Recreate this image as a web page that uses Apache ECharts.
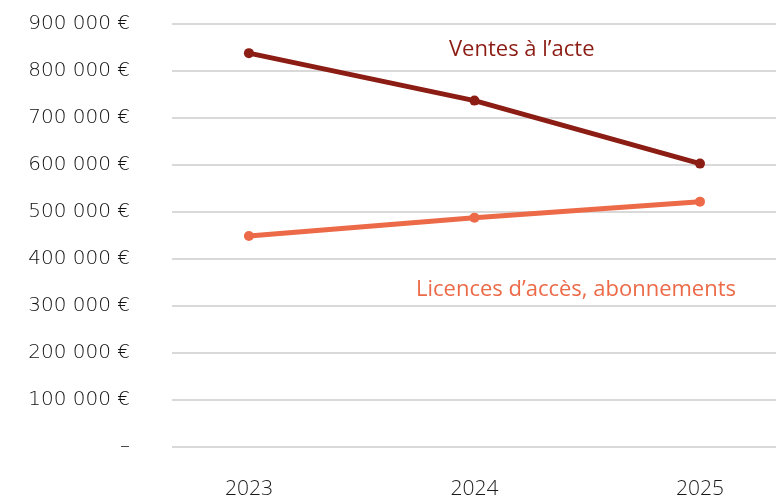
<!DOCTYPE html>
<html>
<head>
<meta charset="utf-8">
<script src="https://cdn.jsdelivr.net/npm/echarts@6/dist/echarts.min.js"></script>
<style>
  html, body { margin: 0; padding: 0; background: #fff; }
  #chart { width: 778px; height: 504px; }
</style>
</head>
<body>
<div id="chart"></div>
<script>
// données
var years = [2023, 2024, 2025];
var ventes = [838000, 737000, 603000];
var licences = [449000, 488000, 522000];

function pairs(vals) {
    return years.map(function (y, i) { return [y, vals[i]]; });
}

function fmtEuro(v) {
    if (v === 0) return '–';
    return String(v).replace(/\B(?=(\d{3})+(?!\d))/g, ' ') + ' €';
}

var chart = echarts.init(document.getElementById('chart'));
var option = {
    animation: false,
    grid: { left: 172, right: 2, top: 24, bottom: 57 },
    xAxis: {
        type: 'value',
        min: 2022.659,
        max: 2025.337,
        splitLine: { show: false },
        axisLine: { show: false },
        axisTick: { show: false },
        axisLabel: {
            customValues: years,
            margin: 32,
            fontFamily: 'Open Sans',
            fontWeight: 300,
            fontSize: 21,
            color: '#1a1a1a',
            formatter: function (v) { return String(v); }
        }
    },
    yAxis: {
        type: 'value',
        min: 0,
        max: 900000,
        interval: 100000,
        axisLine: { show: false },
        axisTick: { show: false },
        splitLine: { lineStyle: { color: '#d9d9d9', width: 2 } },
        axisLabel: {
            margin: 42,
            fontFamily: 'DejaVu Sans',
            fontWeight: 200,
            fontSize: 20,
            color: '#111',
            formatter: fmtEuro
        }
    },
    series: [
        {
            name: 'Ventes à l’acte',
            type: 'line',
            data: pairs(ventes),
            symbol: 'circle',
            symbolSize: 10,
            lineStyle: { color: '#8c1d14', width: 5, cap: 'round' },
            itemStyle: { color: '#8c1d14' }
        },
        {
            name: 'Licences d’accès, abonnements',
            type: 'line',
            data: pairs(licences),
            symbol: 'circle',
            symbolSize: 10,
            lineStyle: { color: '#ec6a48', width: 5, cap: 'round' },
            itemStyle: { color: '#ec6a48' }
        }
    ],
    graphic: [
        {
            type: 'text', left: 449, top: 39,
            style: { text: 'Ventes à l’acte', fill: '#8c1d14', font: '500 22px "Open Sans"' }
        },
        {
            type: 'text', left: 416, top: 279,
            style: { text: 'Licences d’accès, abonnements', fill: '#ec6a48', font: '500 22px "Open Sans"' }
        }
    ]
};
chart.setOption(option);
</script>
</body>
</html>
